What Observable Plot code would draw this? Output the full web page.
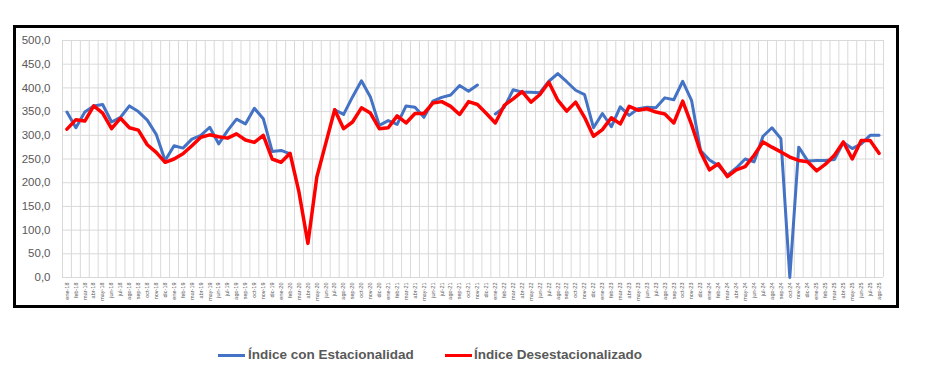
<!DOCTYPE html>
<html>
<head>
<meta charset="utf-8">
<script src="https://cdn.jsdelivr.net/npm/d3@7"></script>
<script src="https://cdn.jsdelivr.net/npm/@observablehq/plot@0.6"></script>
<style>
  html, body { margin: 0; padding: 0; background: #fff; }
  #wrap { position: relative; width: 926px; height: 388px; overflow: hidden; font-family: "Liberation Sans", Arial, sans-serif; }
  #frame { position: absolute; left: 13px; top: 25px; width: 886px; height: 283px; border: 3px solid #000; box-sizing: border-box; pointer-events: none; }
  #chart { position: absolute; left: 0; top: 0; }
  .lg { position: absolute; top: 346px; font-weight: bold; font-size: 13.5px; color: #595959; line-height: 18px; white-space: nowrap; }
  .sw { position: absolute; top: 354px; height: 3px; width: 27px; }
</style>
</head>
<body>
<div id="wrap">
  <div id="chart"></div>
  <div id="frame"></div>
  <div class="sw" style="left:218px;background:#4472c4"></div>
  <div class="lg" style="left:248px">Índice con Estacionalidad</div>
  <div class="sw" style="left:445px;background:#ff0000"></div>
  <div class="lg" style="left:474px">Índice Desestacionalizado</div>
</div>
<script>
const months = ["ene","feb","mar","abr","may","jun","jul","ago","sep","oct","nov","dic"];
const years = ["18","19","20","21","22","23","24","25"];
const labels = years.flatMap(y => months.map(m => `${m}-${y}`)).slice(0, 92);

const yTicks = [0,50,100,150,200,250,300,350,400,450,500];

const conEstacionalidad = [
  349,316,349,362,365,328,338,362,350,332,302,247,
  278,273,292,300,317,282,310,334,324,357,335,266,
  268,261,null,null,null,null,354,344,381,415,381,321,
  331,323,362,359,338,372,380,385,405,393,406,null,
  345,359,396,391,391,390,414,430,413,395,386,316,
  346,318,360,342,356,359,358,379,375,414,373,268,
  248,236,216,231,250,244,298,316,293,0,275,246,
  247,247,249,285,272,282,300,300
];

const desestacionalizado = [
  313,333,330,362,347,314,336,316,311,280,264,243,
  250,261,278,296,301,297,294,303,290,285,300,250,
  243,262,180,72,212,283,354,314,328,358,347,314,
  316,341,326,346,346,368,371,361,344,371,365,346,
  326,363,377,392,370,386,412,374,351,370,338,298,
  312,337,324,361,353,356,349,345,326,372,322,265,
  227,240,213,227,234,258,286,275,265,254,247,244,
  225,239,258,286,250,289,289,262
];

const toRows = arr => arr.map((v, i) => ({i, v: v == null ? NaN : v}));

const chart = Plot.plot({
  width: 926,
  height: 310,
  marginLeft: 62,
  marginRight: 43,
  marginTop: 40,
  marginBottom: 33,
  style: {fontFamily: '"Liberation Sans", Arial, sans-serif', background: "transparent"},
  x: {type: "linear", domain: [-0.5, labels.length - 0.5]},
  y: {domain: [0, 500]},
  marks: [
    Plot.ruleX(d3.range(labels.length + 1).map(i => i - 0.5), {stroke: "#d9d9d9", strokeWidth: 1}),
    Plot.ruleY(yTicks, {stroke: "#d9d9d9", strokeWidth: 1}),
    Plot.axisY({ticks: yTicks, tickFormat: d => d.toFixed(1).replace(".", ","), tickSize: 0, tickPadding: 12, fontSize: 11.5, color: "#595959", label: null}),
    Plot.axisX({ticks: d3.range(labels.length), tickFormat: i => labels[i], tickRotate: -90, tickSize: 0, tickPadding: 5, fontSize: 5.5, color: "#595959", label: null}),
    Plot.line(toRows(conEstacionalidad), {x: "i", y: "v", stroke: "#4472c4", strokeWidth: 3, strokeLinejoin: "round"}),
    Plot.line(toRows(desestacionalizado), {x: "i", y: "v", stroke: "#ff0000", strokeWidth: 3.5, strokeLinejoin: "round"})
  ]
});
document.getElementById("chart").append(chart);
</script>
</body>
</html>
